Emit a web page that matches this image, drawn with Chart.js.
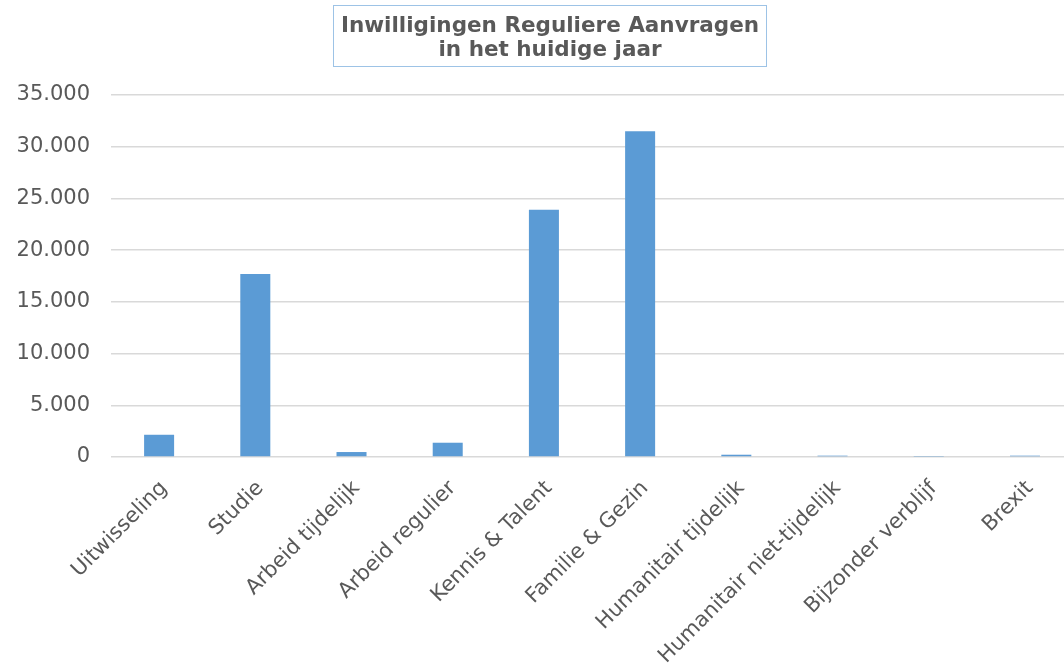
<!DOCTYPE html>
<html>
<head>
<meta charset="utf-8">
<script src="https://cdn.jsdelivr.net/npm/chart.js@4/dist/chart.umd.min.js"></script>
<style>
html,body{margin:0;padding:0;background:#fff;}
#wrap{width:1064px;height:667px;}
</style>
</head>
<body>
<div id="wrap"><canvas id="c" width="1064" height="667"></canvas></div>
<script>
const categories = ["Uitwisseling","Studie","Arbeid tijdelijk","Arbeid regulier","Kennis & Talent","Familie & Gezin","Humanitair tijdelijk","Humanitair niet-tijdelijk","Bijzonder verblijf","Brexit"];
const inwilligingen = [2150, 17700, 480, 1380, 23900, 31500, 220, 130, 40, 130];
const titleLines = ["Inwilligingen Reguliere Aanvragen", "in het huidige jaar"];
const yMax = 35000;
const yStep = 5000;

const FONT = "'DejaVu Sans', Verdana, sans-serif";
const TEXT = '#595959';

const points = categories.map((c, i) => ({ x: i, y: inwilligingen[i] }));

const titleBox = {
  id: 'titleBox',
  afterDraw(chart) {
    const ctx = chart.ctx;
    ctx.save();
    ctx.strokeStyle = '#9DC3E6';
    ctx.lineWidth = 1;
    ctx.strokeRect(333.5, 5.5, 433, 61);
    ctx.fillStyle = TEXT;
    ctx.font = "bold 21.5px " + FONT;
    ctx.textAlign = 'center';
    ctx.textBaseline = 'alphabetic';
    ctx.fillText(titleLines[0], 550, 32);
    ctx.fillText(titleLines[1], 550, 56);
    ctx.restore();
  }
};

new Chart(document.getElementById('c'), {
  type: 'bar',
  data: {
    datasets: [{
      data: points,
      backgroundColor: '#5B9BD5',
      borderWidth: 0,
      categoryPercentage: 1,
      barPercentage: 0.312
    }]
  },
  options: {
    responsive: false,
    animation: false,
    layout: { padding: { top: 95, right: 0, left: 0, bottom: 0 } },
    plugins: { legend: { display: false }, title: { display: false }, tooltip: { enabled: false } },
    scales: {
      x: {
        type: 'linear',
        min: -0.5,
        max: 9.406,
        offset: false,
        grid: { display: false },
        border: { display: false },
        ticks: {
          stepSize: 1,
          includeBounds: false,
          color: TEXT,
          font: { family: FONT, size: 21 },
          minRotation: 45,
          maxRotation: 45,
          autoSkip: false,
          padding: 11,
          labelOffset: 5,
          callback: v => (Number.isInteger(v) && categories[v] !== undefined) ? categories[v] : ''
        },
        afterFit(scale) { scale.height = 210; }
      },
      y: {
        min: 0,
        max: yMax,
        grid: { color: '#d9d9d9', lineWidth: 1.5, drawTicks: false },
        border: { display: false },
        ticks: {
          stepSize: yStep,
          color: TEXT,
          font: { family: FONT, size: 21 },
          padding: 21,
          callback: v => String(v).replace(/\B(?=(\d{3})+(?!\d))/g, '.')
        },
        afterFit(scale) { scale.width = 111; }
      }
    }
  },
  plugins: [titleBox]
});
</script>
</body>
</html>
